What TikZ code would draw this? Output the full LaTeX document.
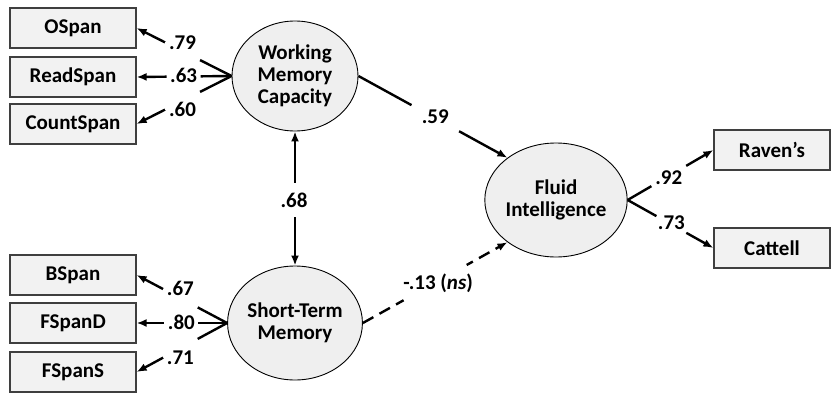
\documentclass[tikz,border=0pt]{standalone}
\usepackage{fontspec}
\setmainfont{Carlito}
\usetikzlibrary{arrows.meta,shapes.geometric}
\definecolor{boxfill}{HTML}{F2F2F2}
\definecolor{boxdraw}{HTML}{3F3F3F}
\definecolor{latfill}{HTML}{EFEFEF}
\begin{document}
\begin{tikzpicture}[x=1pt,y=-1pt,
  every node/.style={font=\fontsize{21}{22}\selectfont\bfseries},
  obs/.style={draw=boxdraw, line width=1.2pt, fill=boxfill, minimum width=126pt, minimum height=40pt, inner sep=0},
  obsr/.style={obs, minimum width=116pt},
  lat/.style={ellipse, draw=black, line width=0.9pt, fill=latfill, inner sep=0, align=center},
  arr/.style={line width=2.4pt, -{Latex[length=10pt,width=8pt]}},
  gap/.style={sloped, fill=white, inner sep=0, minimum height=8pt},
  lab/.style={inner sep=0}]
\path[use as bounding box] (0,0) rectangle (832,393);

% observed variables
\node[obs] (ospan) at (73,28) {OSpan};
\node[obs] (readspan) at (73,77) {ReadSpan};
\node[obs] (countspan) at (73,124) {CountSpan};
\node[obs] (bspan) at (73,275) {BSpan};
\node[obs] (fspand) at (73,323) {FSpanD};
\node[obs] (fspans) at (73,372) {FSpanS};
\node[obsr] (ravens) at (772,150) {Raven’s};
\node[obsr] (cattell) at (772,248) {Cattell};

% latent variables
\node[lat, minimum width=126pt, minimum height=110pt] (wm) at (295,76) {Working\\Memory\\Capacity};
\node[lat, minimum width=125pt, minimum height=114pt] (stm) at (295,323) {Short-Term\\Memory};
\node[lat, minimum width=126pt, minimum height=114pt] (fi) at (556,200) {Fluid\\Intelligence};

% WMC indicators
\draw[arr] (wm.west) -- (ospan.east)
  node[gap, pos=.516, minimum width=39pt] (g1) {}
  node[lab, pos=.516, yshift=9pt] (l1) {.79};
\draw[arr] (wm.west) -- (readspan.east)
  node[gap, pos=.505, minimum width=34pt] (g2) {}
  node[lab, pos=.505, yshift=1.5pt] (l2) {.63};
\draw[arr] (wm.west) -- (countspan.east)
  node[gap, pos=.516, minimum width=39pt] (g3) {}
  node[lab, pos=.516, yshift=-9pt] (l3) {.60};

% STM indicators
\draw[arr] (stm.west) -- (bspan.east)
  node[gap, pos=.516, minimum width=39pt] (g4) {}
  node[lab, pos=.516, yshift=10pt] (l4) {.67};
\draw[arr] (stm.west) -- (fspand.east)
  node[gap, pos=.505, minimum width=34pt] (g5) {}
  node[lab, pos=.505, yshift=1pt] (l5) {.80};
\draw[arr] (stm.west) -- (fspans.east)
  node[gap, pos=.516, minimum width=39pt] (g6) {}
  node[lab, pos=.516, yshift=-9pt] (l6) {.71};

% correlation
\draw[arr, {Latex[length=10pt,width=8pt]}-{Latex[length=10pt,width=8pt]}] (wm.south) -- (stm.north)
  node[gap, pos=.51, minimum width=34pt] (g7) {}
  node[lab, pos=.51, xshift=-1pt] (l7) {.68};

% structural paths
\draw[arr] (wm.east) -- (fi.139)
  node[gap, pos=.516, minimum width=54pt] (g8) {}
  node[lab, pos=.516, yshift=2pt] (l8) {.59};
\draw[arr, dash pattern=on 12pt off 7pt] (stm.east) -- (fi.221)
  node[gap, pos=.5, minimum width=72pt] (g9) {}
  node[lab, pos=.5, xshift=3pt, yshift=-1pt] (l9) {-.13 (\textit{ns})};

% Gf indicators
\draw[arr] (fi.east) -- (ravens.west)
  node[gap, pos=.48, minimum width=40pt] (g10) {}
  node[lab, pos=.48, yshift=-2pt] (l10) {.92};
\draw[arr] (fi.east) -- (cattell.west)
  node[gap, pos=.51, minimum width=34pt] (g11) {}
  node[lab, pos=.51, yshift=2pt] (l11) {.73};
\end{tikzpicture}
\end{document}
